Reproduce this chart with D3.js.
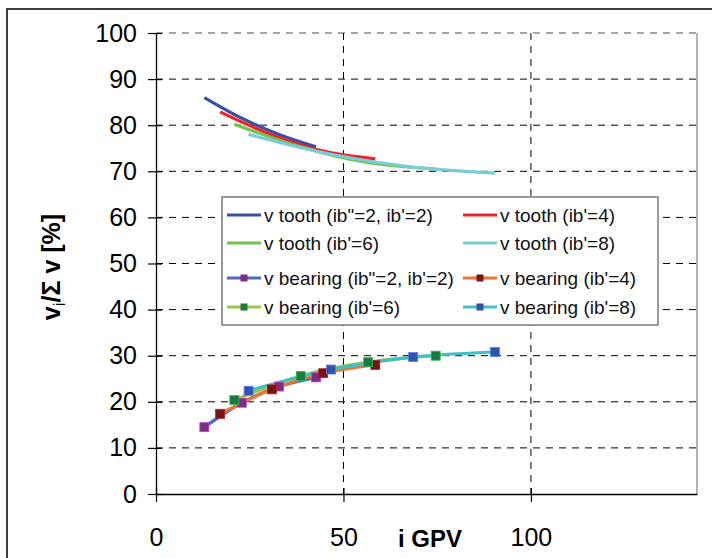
<!DOCTYPE html>
<html>
<head>
<meta charset="utf-8">
<script src="https://d3js.org/d3.v7.min.js"></script>
<style>
  body { margin: 0; background: #fff; }
  svg { display: block; font-family: "Liberation Sans", Arial, sans-serif; }
</style>
</head>
<body>
<div id="chart"></div>
<script>
// i GPV positions of the four configurations
const iGpv2 = [12.9, 22.9, 32.8, 42.7];
const iGpv4 = [17.1, 30.9, 44.6, 58.5];
const iGpv6 = [20.9, 38.6, 56.6, 74.6];
const iGpv8 = [24.7, 46.7, 68.6, 90.4];

// share of tooth losses [%]
const tooth2 = [86.0, 81.5, 78.0, 75.3];
const tooth4 = [82.9, 77.9, 74.4, 72.7];
const tooth6 = [80.2, 75.3, 71.9, 70.5];
const tooth8 = [78.0, 73.7, 70.9, 69.6];

// share of bearing losses [%]
const bearing2 = [14.5, 19.8, 23.3, 25.3];
const bearing4 = [17.4, 22.7, 26.2, 28.0];
const bearing6 = [20.4, 25.6, 28.6, 30.0];
const bearing8 = [22.4, 27.0, 29.7, 30.8];

const yTicks = [0, 10, 20, 30, 40, 50, 60, 70, 80, 90, 100];
const xTicks = [0, 50, 100];

const seriesNames = [
    'v tooth (ib"=2, ib\'=2)', "v tooth (ib'=4)", "v tooth (ib'=6)", "v tooth (ib'=8)",
    'v bearing (ib"=2, ib\'=2)', "v bearing (ib'=4)", "v bearing (ib'=6)", "v bearing (ib'=8)"
];

const series = [
    { name: seriesNames[0], x: iGpv2, y: tooth2, color: '#3a4ea2' },
    { name: seriesNames[1], x: iGpv4, y: tooth4, color: '#ee2229' },
    { name: seriesNames[2], x: iGpv6, y: tooth6, color: '#72c24c' },
    { name: seriesNames[3], x: iGpv8, y: tooth8, color: '#78cdd8' },
    { name: seriesNames[4], x: iGpv2, y: bearing2, color: '#4a6cc0', marker: '#7c2e82' },
    { name: seriesNames[5], x: iGpv4, y: bearing4, color: '#f2742e', marker: '#7a1414' },
    { name: seriesNames[6], x: iGpv6, y: bearing6, color: '#9cc83e', marker: '#1c7a3e' },
    { name: seriesNames[7], x: iGpv8, y: bearing8, color: '#3ec2c8', marker: '#3452a8' }
];

const width = 712, height = 558;
const svg = d3.select('#chart').append('svg')
    .attr('width', width)
    .attr('height', height);

// outer frame (runs off the right and bottom edges)
svg.append('rect')
    .attr('x', 7).attr('y', 9)
    .attr('width', 730).attr('height', 570)
    .attr('fill', 'none')
    .attr('stroke', '#000')
    .attr('stroke-width', 1.5);

const x = d3.scaleLinear().domain([0, 144.3]).range([156, 697]);
const y = d3.scaleLinear().domain([0, 100]).range([494, 33]);

// plot border on the right
svg.append('line')
    .attr('x1', 697).attr('x2', 697)
    .attr('y1', 33).attr('y2', 494)
    .attr('stroke', '#9a9a9a')
    .attr('stroke-width', 1.5);

// dashed grid
svg.append('g')
    .selectAll('line')
    .data(yTicks.filter(d => d > 0))
    .enter().append('line')
    .attr('x1', 156).attr('x2', 697)
    .attr('y1', d => y(d)).attr('y2', d => y(d))
    .attr('stroke', d => d === 100 ? '#8a8a8a' : '#000')
    .attr('stroke-width', d => d === 100 ? 1.5 : 1)
    .attr('stroke-dasharray', '7,6');

svg.append('g')
    .selectAll('line')
    .data(xTicks.filter(d => d > 0))
    .enter().append('line')
    .attr('x1', d => x(d)).attr('x2', d => x(d))
    .attr('y1', 33).attr('y2', 494)
    .attr('stroke', '#000')
    .attr('stroke-dasharray', '7,6');

// axes
const yAxis = svg.append('g')
    .attr('transform', 'translate(156,0)')
    .call(d3.axisLeft(y).tickValues(yTicks).tickSize(8).tickSizeOuter(0).tickPadding(11));
yAxis.selectAll('.tick line').attr('x1', 6);

const xAxis = svg.append('g')
    .attr('transform', 'translate(0,494)')
    .call(d3.axisBottom(x).tickValues(xTicks).tickSize(8).tickSizeOuter(0).tickPadding(26));
xAxis.selectAll('.tick line').attr('y1', -6);

[yAxis, xAxis].forEach(ax => {
    ax.attr('font-family', null).attr('font-size', null);
    ax.select('.domain').attr('stroke', '#000').attr('stroke-width', 1.3);
    ax.selectAll('.tick line').attr('stroke', '#000').attr('stroke-width', 1.2);
    ax.selectAll('.tick text').attr('fill', '#000').style('font-size', '25px');
});

// axis titles
svg.append('text')
    .attr('x', 430).attr('y', 547)
    .attr('text-anchor', 'middle')
    .style('font-size', '24px')
    .style('font-weight', 'bold')
    .text('i GPV');

const yTitle = svg.append('text')
    .attr('transform', 'translate(60,267) rotate(-90)')
    .attr('text-anchor', 'middle')
    .style('font-size', '25px')
    .style('font-weight', 'bold');
yTitle.append('tspan').text('v');
yTitle.append('tspan').attr('dy', 5).style('font-size', '17px').style('font-weight', 'normal').text('i');
yTitle.append('tspan').attr('dy', -5).text('/Σ v [%]');

// series
const line = d3.line()
    .x(d => x(d[0]))
    .y(d => y(d[1]))
    .curve(d3.curveCatmullRom.alpha(0.5));

series.forEach(s => {
    const pts = s.x.map((v, i) => [v, s.y[i]]);
    svg.append('path')
        .datum(pts)
        .attr('fill', 'none')
        .attr('stroke', s.color)
        .attr('stroke-width', 3.2)
        .attr('d', line);
});

series.filter(s => s.marker).forEach(s => {
    const pts = s.x.map((v, i) => [v, s.y[i]]);
    svg.append('g')
        .selectAll('rect')
        .data(pts)
        .enter().append('rect')
        .attr('x', d => x(d[0]) - 4.5)
        .attr('y', d => y(d[1]) - 4.5)
        .attr('width', 9).attr('height', 9)
        .attr('fill', s.marker)
        .attr('stroke', d3.color(s.marker).brighter(1.2))
        .attr('stroke-width', 0.8);
});

// legend
const legend = svg.append('g');
legend.append('rect')
    .attr('x', 222).attr('y', 197)
    .attr('width', 436).attr('height', 128)
    .attr('fill', '#fff')
    .attr('stroke', '#7a7a7a')
    .attr('stroke-width', 1.5);

const rowY = [215, 243, 278, 307];
const colX = [227, 463];

series.forEach((s, i) => {
    const lx = colX[i % 2];
    const ly = rowY[Math.floor(i / 2)];
    legend.append('line')
        .attr('x1', lx).attr('x2', lx + 34)
        .attr('y1', ly).attr('y2', ly)
        .attr('stroke', s.color)
        .attr('stroke-width', 3);
    if (s.marker) {
        legend.append('rect')
            .attr('x', lx + 17 - 3.5).attr('y', ly - 3.5)
            .attr('width', 7).attr('height', 7)
            .attr('fill', s.marker);
    }
    legend.append('text')
        .attr('x', lx + 37).attr('y', ly)
        .attr('dy', '0.35em')
        .style('font-size', '19px')
        .attr('fill', '#111')
        .text(s.name);
});
</script>
</body>
</html>
